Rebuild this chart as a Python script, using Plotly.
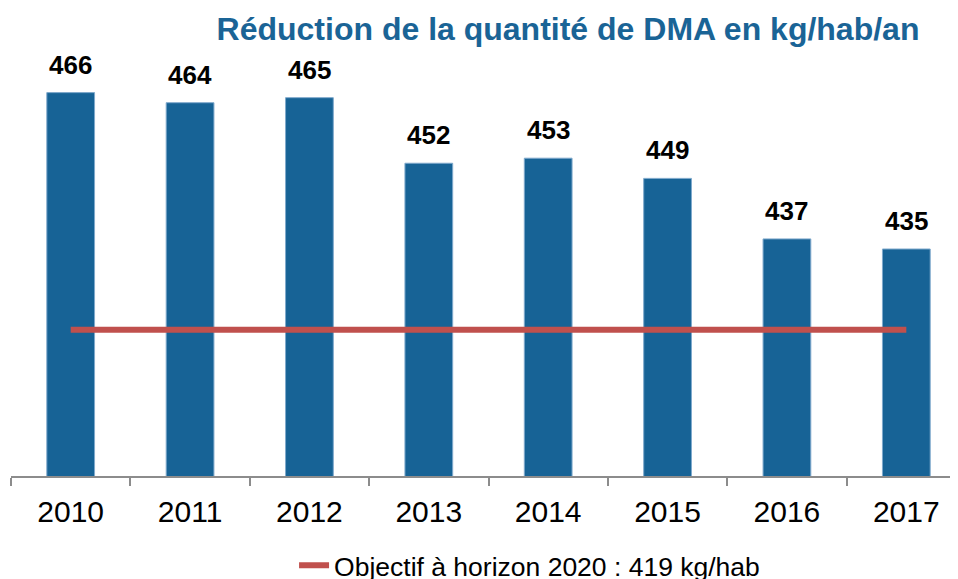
import plotly.graph_objects as go

# Données : quantité de DMA (kg/hab/an)
years = ["2010", "2011", "2012", "2013", "2014", "2015", "2016", "2017"]
dma = [466, 464, 465, 452, 453, 449, 437, 435]
objective = 419
objective_label = "Objectif à horizon 2020 : 419 kg/hab"

bar_color = "#176396"
line_color = "#C0504D"
font = "Liberation Sans, Arial, sans-serif"

fig = go.Figure()

# Barres annuelles
fig.add_trace(go.Bar(
    x=years,
    y=dma,
    width=0.4,
    marker=dict(color=bar_color, line=dict(color="#7fa9cc", width=1)),
    showlegend=False,
    hoverinfo="x+y",
))

# Ligne d'objectif
fig.add_trace(go.Scatter(
    x=years,
    y=[objective] * len(years),
    mode="lines",
    line=dict(color=line_color, width=6),
    name=objective_label,
))

# Étiquettes de valeurs au-dessus des barres
for i, v in enumerate(dma):
    fig.add_annotation(
        x=i, y=v, text=str(v), showarrow=False,
        yanchor="bottom", yshift=11,
        font=dict(family=font, size=26, color="black", weight="bold"),
    )

H = 595
fig.update_layout(
    width=958,
    height=H,
    margin=dict(l=3, r=0, t=14, b=H - 468.5),
    paper_bgcolor="white",
    plot_bgcolor="white",
    font=dict(family=font, color="black"),
    title=dict(
        text="Réduction de la quantité de DMA en kg/hab/an",
        font=dict(family=font, size=32, color="#1A6496", weight="bold"),
        x=560 / 958, xanchor="center",
        y=1 - 21 / H, yanchor="middle",
    ),
    showlegend=True,
    legend=dict(
        orientation="h",
        x=0.543, xanchor="center",
        y=-0.197, yanchor="middle",
        font=dict(family=font, size=26.5, color="black"),
    ),
)

fig.update_xaxes(
    type="category",
    range=[-0.5, 7.5],
    automargin=False,
    showline=True, linecolor="#8c8c8c", linewidth=1.5,
    ticks="outside", tickson="boundaries", ticklen=8, tickcolor="#8c8c8c", tickwidth=1.5,
    ticklabelstandoff=8,
    tickfont=dict(family=font, size=30, color="black"),
    showgrid=False,
)
fig.update_yaxes(range=[390, 480], visible=False)

fig.write_html("out.html")
